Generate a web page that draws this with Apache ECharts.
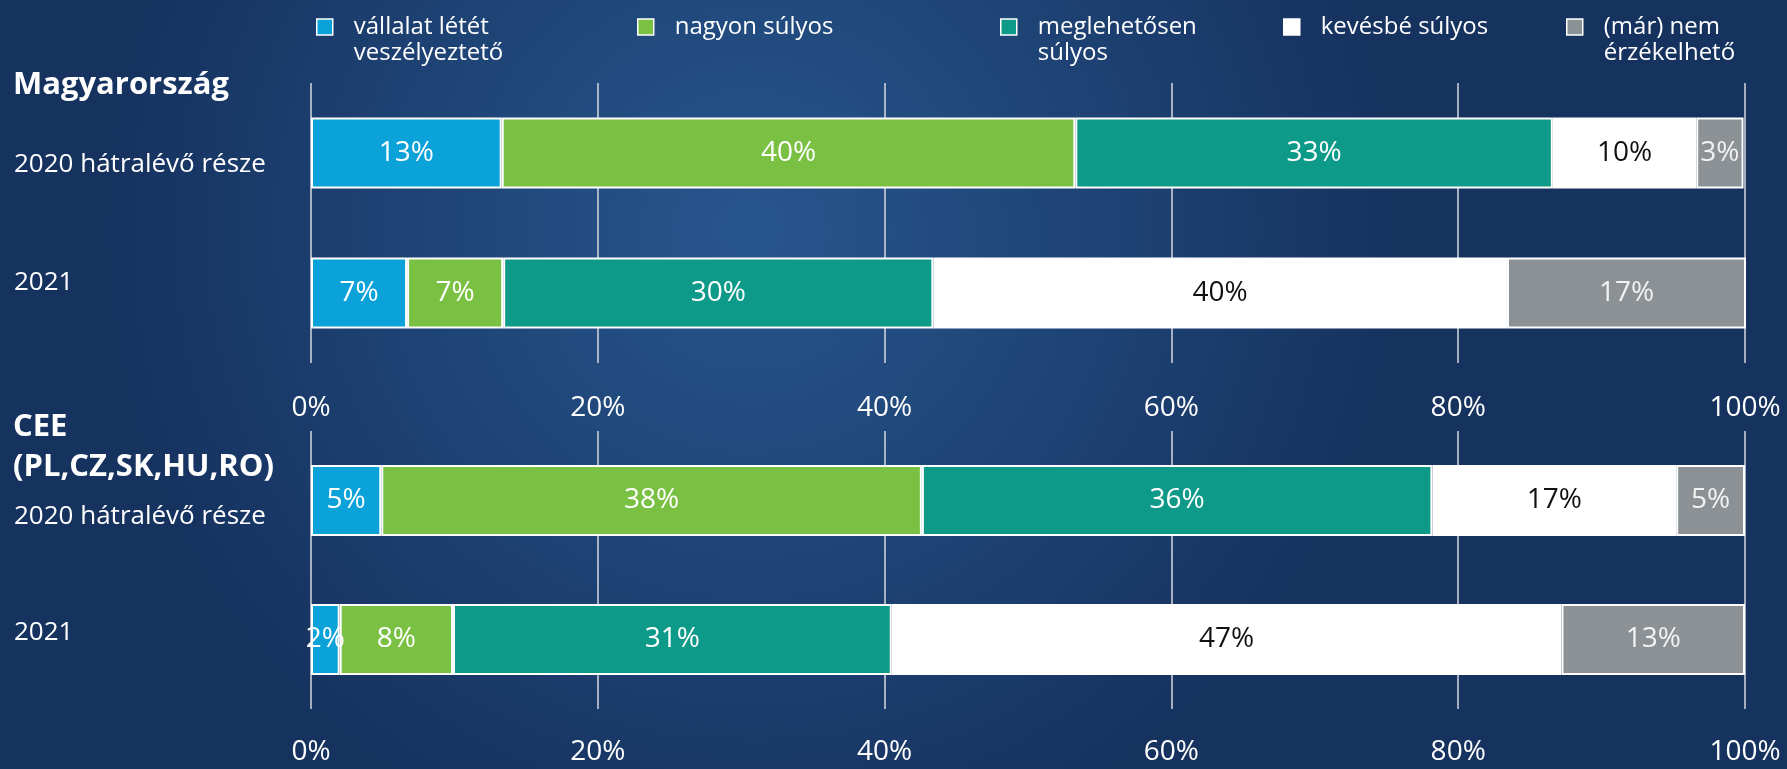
<!DOCTYPE html>
<html>
<head>
<meta charset="utf-8">
<script src="https://cdn.jsdelivr.net/npm/echarts@6/dist/echarts.min.js"></script>
<style>
    html, body { margin: 0; padding: 0; }
    #chart { width: 1787px; height: 769px; }
</style>
</head>
<body>
<div id="chart"></div>
<script>
// categories (rows of each block)
const categories = ['2020 hátralévő része', '2021'];
const groupTitles = ['Magyarország', 'CEE\n(PL,CZ,SK,HU,RO)'];

const seriesNames = ['vállalat létét veszélyeztető', 'nagyon súlyos', 'meglehetősen súlyos', 'kevésbé súlyos', '(már) nem érzékelhető'];
const legendLabels = ['vállalat létét\nveszélyeztető', 'nagyon súlyos', 'meglehetősen\nsúlyos', 'kevésbé súlyos', '(már) nem\nérzékelhető'];

// values per series: [2020 hátralévő része, 2021]
const huValues = [
    [13.3, 6.7],
    [40.0, 6.7],
    [33.3, 30.0],
    [10.0, 40.0],
    [3.3, 16.7]
];
const ceeValues = [
    [4.9, 2.0],
    [37.7, 7.9],
    [35.6, 30.6],
    [17.0, 46.7],
    [4.8, 12.8]
];

const xMin = 0;
const xMax = 100;
const xStep = 20;

const COLORS = ['#0aa2d8', '#7ac143', '#0e9a88', '#ffffff', '#8b9194'];
const LABEL_COLORS = ['#ffffff', '#ffffff', '#ffffff', '#111111', '#f2f2f2'];
const FONT = '"Open Sans", "Noto Sans", sans-serif';

const chart = echarts.init(document.getElementById('chart'));

function xAxisFor(gridIndex, margin) {
    return {
        type: 'value',
        gridIndex: gridIndex,
        min: xMin,
        max: xMax,
        interval: xStep,
        axisLine: { show: false },
        axisTick: { show: false },
        axisLabel: {
            formatter: '{value}%',
            color: '#ffffff',
            fontSize: 28,
            fontFamily: FONT,
            lineHeight: 34,
            margin: margin
        },
        splitLine: { show: true, lineStyle: { color: '#d4d8de', width: 1.5 } }
    };
}

function yAxisFor(gridIndex, shifts) {
    const rich = {};
    shifts.forEach(function (s, i) {
        rich['r' + i] = {
            fontSize: 26,
            fontFamily: FONT,
            color: '#ffffff',
            padding: s >= 0 ? [s * 2, 0, 0, 0] : [0, 0, -s * 2, 0]
        };
    });
    return {
        type: 'category',
        gridIndex: gridIndex,
        data: categories,
        inverse: true,
        axisLine: { show: false },
        axisTick: { show: false },
        splitLine: { show: false },
        axisLabel: {
            align: 'left',
            margin: 297,
            formatter: function (value, index) { return '{r' + index + '|' + value + '}'; },
            rich: rich
        }
    };
}

const series = [];
[huValues, ceeValues].forEach(function (block, b) {
    block.forEach(function (vals, i) {
        series.push({
            name: seriesNames[i],
            type: 'bar',
            stack: 'block' + b,
            xAxisIndex: b,
            yAxisIndex: b,
            barWidth: 71,
            data: vals,
            itemStyle: { color: COLORS[i], borderColor: '#ffffff', borderWidth: 2 },
            label: {
                show: true,
                position: 'inside',
                color: LABEL_COLORS[i],
                fontSize: 28,
                fontFamily: FONT,
                formatter: function (p) { return Math.round(p.value) + '%'; }
            },
            emphasis: { disabled: true }
        });
    });
});

// one legend per item so the columns sit where the original has them.
// two-line items get an empty first line so the icon lines up with the first text line
const legendLefts = [316, 637, 1000, 1283, 1566];
const legends = seriesNames.map(function (name, i) {
    const twoLines = legendLabels[i].indexOf('\n') >= 0;
    return {
        data: [name],
        left: legendLefts[i],
        top: twoLines ? -12 : 14,
        padding: 0,
        icon: 'rect',
        itemWidth: 16,
        itemHeight: 16,
        itemGap: 0,
        selectedMode: false,
        itemStyle: { borderColor: '#ffffff', borderWidth: 1.5 },
        formatter: function (n) {
            const txt = legendLabels[seriesNames.indexOf(n)];
            return (twoLines ? '\n' : '') + txt.split('\n').map(function (t) { return '{t|' + t + '}'; }).join('\n');
        },
        textStyle: {
            color: '#ffffff',
            fontSize: 24,
            fontFamily: FONT,
            lineHeight: 26,
            rich: {
                t: { color: '#ffffff', fontSize: 24, fontFamily: FONT, lineHeight: 26, padding: [0, 0, 0, 16] }
            }
        }
    };
});

const option = {
    backgroundColor: new echarts.graphic.RadialGradient(0.42, 0.3, 0.85, [
        { offset: 0, color: '#27568d' },
        { offset: 1, color: '#16325f' }
    ]),
    animation: false,
    title: [
        {
            text: groupTitles[0],
            left: 13,
            top: 65,
            padding: 0,
            textStyle: { color: '#ffffff', fontSize: 31, fontWeight: 'bold', fontFamily: FONT, lineHeight: 40 }
        },
        {
            text: groupTitles[1],
            left: 13,
            top: 407,
            padding: 0,
            textStyle: { color: '#ffffff', fontSize: 31, fontWeight: 'bold', fontFamily: FONT, lineHeight: 40 }
        }
    ],
    legend: legends,
    grid: [
        { left: 311, right: 42, top: 83, height: 280 },
        { left: 311, right: 42, top: 431, height: 282 }
    ],
    xAxis: [xAxisFor(0, 28), xAxisFor(1, 26)],
    yAxis: [yAxisFor(0, [12, -10]), yAxisFor(1, [16, -7])],
    series: series
};

chart.setOption(option);
</script>
</body>
</html>
